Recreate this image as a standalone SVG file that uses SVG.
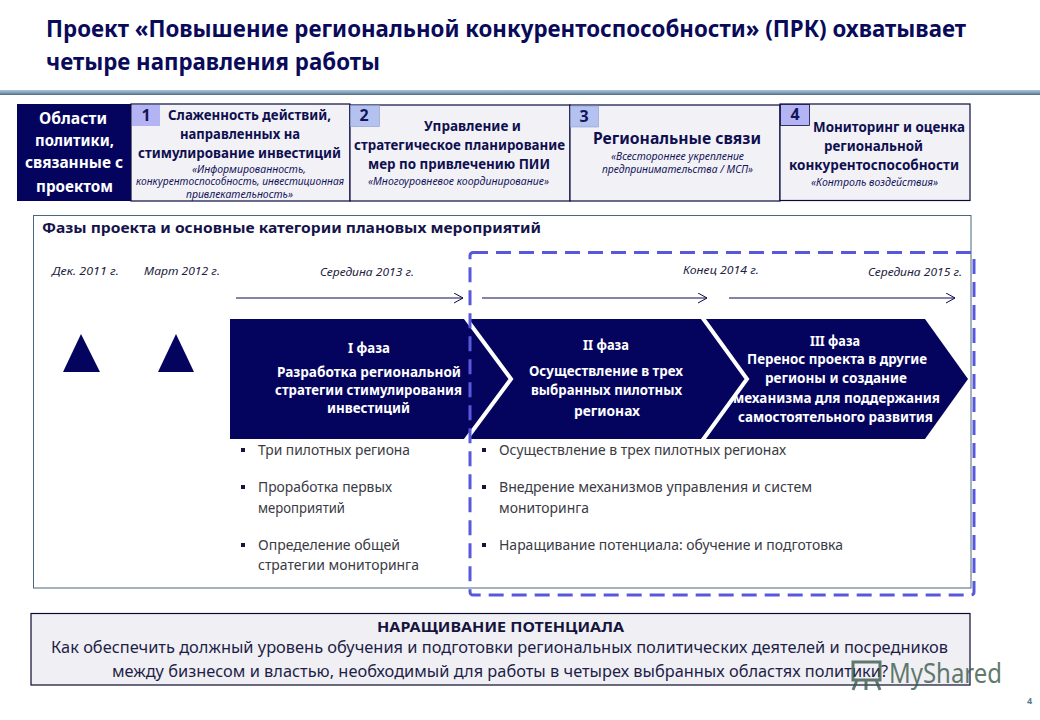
<svg xmlns="http://www.w3.org/2000/svg" width="1040" height="720" viewBox="0 0 1040 720">
<defs>
<linearGradient id="rule" x1="0" y1="0" x2="0" y2="1"><stop offset="0" stop-color="#a8c4d8"/><stop offset="0.55" stop-color="#7f9fb8"/><stop offset="1" stop-color="#4e6a80"/></linearGradient>
<marker id="open" markerWidth="12" markerHeight="12" refX="9" refY="5" orient="auto" markerUnits="userSpaceOnUse"><path d="M0 0 L9 5 L0 10" fill="none" stroke="#0a0a50" stroke-width="1"/></marker>
</defs>
<style>
text{font-family:"Noto Sans","DejaVu Sans",sans-serif}
.title{font-size:22.5px;font-weight:700;fill:#0a0a5a}
.h{font-size:13.5px;font-weight:700;fill:#0f0f50}
.h3{font-size:15.5px;font-weight:700;fill:#0f0f50}
.it{font-size:10px;font-style:italic;fill:#14145a}
.dark{font-size:15.5px;font-weight:700;fill:#fff}
.w{font-size:13.5px;font-weight:700;fill:#fff}
.date{font-size:10.5px;font-style:italic;fill:#222240}
.li{font-size:13.5px;fill:#3a3a44}
.num{font-size:16px;font-weight:700;fill:#14145a;text-anchor:middle}
.box{fill:#f2f2f6;stroke:#0a0a40;stroke-width:1.2}
.bul{fill:#14143c}
</style>
<rect width="1040" height="720" fill="#fff"/>
<g id="title">
<text class="title" x="46" y="37" textLength="920" lengthAdjust="spacingAndGlyphs">Проект «Повышение региональной конкурентоспособности» (ПРК) охватывает</text>
<text class="title" x="46" y="70" textLength="334" lengthAdjust="spacingAndGlyphs">четыре направления работы</text>
<rect x="0" y="90" width="1040" height="5" fill="url(#rule)"/>
</g>
<g id="policy-label">
<rect x="17" y="104" width="114" height="97" fill="#04045e"/>
<text class="dark" x="39" y="124" textLength="68" lengthAdjust="spacingAndGlyphs">Области</text>
<text class="dark" x="35" y="146" textLength="79" lengthAdjust="spacingAndGlyphs">политики,</text>
<text class="dark" x="25" y="168" textLength="98" lengthAdjust="spacingAndGlyphs">связанные с</text>
<text class="dark" x="36" y="192" textLength="77" lengthAdjust="spacingAndGlyphs">проектом</text>
</g>
<g id="area-1">
<rect class="box" x="131" y="104" width="219" height="97"/>
<rect x="132" y="105" width="28" height="21" fill="#b4b4f4"/>
<text class="num" x="146" y="121">1</text>
<text class="h" x="168" y="120" textLength="163" lengthAdjust="spacingAndGlyphs">Слаженность действий,</text>
<text class="h" x="180" y="139" textLength="120" lengthAdjust="spacingAndGlyphs">направленных на</text>
<text class="h" x="138" y="158" textLength="203" lengthAdjust="spacingAndGlyphs">стимулирование инвестиций</text>
<text class="it" x="192" y="173" textLength="114" lengthAdjust="spacingAndGlyphs">«Информированность,</text>
<text class="it" x="136" y="185" textLength="208" lengthAdjust="spacingAndGlyphs">конкурентоспособность, инвестиционная</text>
<text class="it" x="186" y="198" textLength="107" lengthAdjust="spacingAndGlyphs">привлекательность»</text>
</g>
<g id="area-2">
<rect class="box" x="350" y="105" width="220" height="96"/>
<rect x="350.500" y="105.500" width="29" height="21" fill="#b4c2f0" stroke="#8a9ad0" stroke-width="0.6"/>
<text class="num" x="364" y="121">2</text>
<text class="h" x="424" y="131" textLength="97" lengthAdjust="spacingAndGlyphs">Управление и</text>
<text class="h" x="354" y="150" textLength="211" lengthAdjust="spacingAndGlyphs">стратегическое планирование</text>
<text class="h" x="368" y="169" textLength="182" lengthAdjust="spacingAndGlyphs">мер по привлечению ПИИ</text>
<text class="it" x="368" y="185" textLength="181" lengthAdjust="spacingAndGlyphs">«Многоуровневое координирование»</text>
</g>
<g id="area-3">
<rect class="box" x="570" y="105" width="210" height="96"/>
<rect x="570.500" y="106" width="28" height="21" fill="#b4c2f0" stroke="#8a9ad0" stroke-width="0.6"/>
<text class="num" x="584" y="122">3</text>
<text class="h3" x="593" y="144" textLength="168" lengthAdjust="spacingAndGlyphs">Региональные связи</text>
<text class="it" x="611" y="160" textLength="133" lengthAdjust="spacingAndGlyphs">«Всестороннее укрепление</text>
<text class="it" x="602" y="173" textLength="151" lengthAdjust="spacingAndGlyphs">предпринимательства / МСП»</text>
</g>
<g id="area-4">
<rect class="box" x="780" y="104" width="190" height="96.500"/>
<rect x="780.500" y="104.500" width="29" height="21" fill="#b4b4f4" stroke="#0a0a40" stroke-width="0.8"/>
<text class="num" x="795" y="120">4</text>
<text class="h" x="813" y="132" textLength="152" lengthAdjust="spacingAndGlyphs">Мониторинг и оценка</text>
<text class="h" x="824" y="151" textLength="99" lengthAdjust="spacingAndGlyphs">региональной</text>
<text class="h" x="789" y="170" textLength="170" lengthAdjust="spacingAndGlyphs">конкурентоспособности</text>
<text class="it" x="811" y="186" textLength="127" lengthAdjust="spacingAndGlyphs">«Контроль воздействия»</text>
</g>
<g id="phases-frame">
<rect x="33.500" y="215.500" width="937.500" height="372.500" fill="#fff" stroke="#48687e" stroke-width="1"/>
<text x="42" y="233" font-size="15" font-weight="700" fill="#14144a" textLength="499" lengthAdjust="spacingAndGlyphs">Фазы проекта и основные категории плановых мероприятий</text>
</g>
<g id="dates">
<text class="date" x="52" y="275" textLength="67" lengthAdjust="spacingAndGlyphs">Дек. 2011 г.</text>
<text class="date" x="144" y="275" textLength="76" lengthAdjust="spacingAndGlyphs">Март 2012 г.</text>
<text class="date" x="320" y="276" textLength="94" lengthAdjust="spacingAndGlyphs">Середина 2013 г.</text>
<text class="date" x="683" y="274" textLength="76" lengthAdjust="spacingAndGlyphs">Конец 2014 г.</text>
<text class="date" x="868" y="276" textLength="94" lengthAdjust="spacingAndGlyphs">Середина 2015 г.</text>
</g>
<g id="milestones" fill="#04045e">
<path d="M63 372 L81 334 L100 372Z"/>
<path d="M158 372 L176 334 L194 372Z"/>
</g>
<g id="connectors" fill="none" stroke="#0a0a50" stroke-width="1">
<line x1="236" y1="298" x2="463" y2="298" marker-end="url(#open)"/>
<line x1="482" y1="298" x2="707" y2="298" marker-end="url(#open)"/>
<line x1="729" y1="298" x2="955" y2="298" marker-end="url(#open)"/>
</g>
<g id="phase-band">
<path d="M230 319 H925 L968 379 L925 439 H230Z" fill="#04045e"/>
</g>
<g id="phase-dividers" fill="none" stroke="#fff" stroke-width="4">
<path d="M465 317 L511 379 L465 441"/>
<path d="M702 317 L747 379 L702 441"/>
</g>
<g id="phase-1">
<text class="w" x="348" y="353" textLength="42" lengthAdjust="spacingAndGlyphs">I фаза</text>
<text class="w" x="277" y="377" textLength="184" lengthAdjust="spacingAndGlyphs">Разработка региональной</text>
<text class="w" x="275" y="395" textLength="187" lengthAdjust="spacingAndGlyphs">стратегии стимулирования</text>
<text class="w" x="327" y="413" textLength="83" lengthAdjust="spacingAndGlyphs">инвестиций</text>
</g>
<g id="phase-2">
<text class="w" x="583" y="350" textLength="46" lengthAdjust="spacingAndGlyphs">II фаза</text>
<text class="w" x="529" y="376" textLength="154" lengthAdjust="spacingAndGlyphs">Осуществление в трех</text>
<text class="w" x="531" y="395" textLength="151" lengthAdjust="spacingAndGlyphs">выбранных пилотных</text>
<text class="w" x="574" y="416" textLength="66" lengthAdjust="spacingAndGlyphs">регионах</text>
</g>
<g id="phase-3">
<text class="w" x="810" y="346" textLength="50" lengthAdjust="spacingAndGlyphs">III фаза</text>
<text class="w" x="747" y="364" textLength="180" lengthAdjust="spacingAndGlyphs">Перенос проекта в другие</text>
<text class="w" x="765" y="383" textLength="142" lengthAdjust="spacingAndGlyphs">регионы и создание</text>
<text class="w" x="733" y="403" textLength="207" lengthAdjust="spacingAndGlyphs">механизма для поддержания</text>
<text class="w" x="738" y="422" textLength="195" lengthAdjust="spacingAndGlyphs">самостоятельного развития</text>
</g>
<g id="list-left">
<rect class="bul" x="241" y="448" width="4" height="4"/>
<rect class="bul" x="241" y="485" width="4" height="4"/>
<rect class="bul" x="241" y="543" width="4" height="4"/>
<text class="li" x="258" y="455" textLength="152" lengthAdjust="spacingAndGlyphs">Три пилотных региона</text>
<text class="li" x="258" y="492" textLength="134" lengthAdjust="spacingAndGlyphs">Проработка первых</text>
<text class="li" x="258" y="513" textLength="87" lengthAdjust="spacingAndGlyphs">мероприятий</text>
<text class="li" x="258" y="550" textLength="142" lengthAdjust="spacingAndGlyphs">Определение общей</text>
<text class="li" x="258" y="570" textLength="161" lengthAdjust="spacingAndGlyphs">стратегии мониторинга</text>
</g>
<g id="list-right">
<rect class="bul" x="482" y="448" width="4" height="4"/>
<rect class="bul" x="482" y="485" width="4" height="4"/>
<rect class="bul" x="482" y="543" width="4" height="4"/>
<text class="li" x="499" y="455" textLength="287" lengthAdjust="spacingAndGlyphs">Осуществление в трех пилотных регионах</text>
<text class="li" x="499" y="492" textLength="313" lengthAdjust="spacingAndGlyphs">Внедрение механизмов управления и систем</text>
<text class="li" x="499" y="513" textLength="90" lengthAdjust="spacingAndGlyphs">мониторинга</text>
<text class="li" x="499" y="550" textLength="344" lengthAdjust="spacingAndGlyphs">Наращивание потенциала: обучение и подготовка</text>
</g>
<g id="phase-highlight">
<rect x="470" y="252.500" width="504" height="342.500" rx="3" fill="none" stroke="#5858dc" stroke-width="3" stroke-dasharray="15 8"/>
</g>
<g id="capacity">
<rect x="31" y="613.500" width="939" height="71.500" fill="#f0f0f4" stroke="#0a0a30" stroke-width="1.200"/>
<text x="377" y="632" font-size="15" font-weight="700" fill="#14143c" textLength="247" lengthAdjust="spacingAndGlyphs">НАРАЩИВАНИЕ ПОТЕНЦИАЛА</text>
<text x="51" y="653" font-size="15.500" fill="#1e1e48" textLength="897" lengthAdjust="spacingAndGlyphs">Как  обеспечить должный уровень обучения и подготовки региональных политических деятелей и посредников</text>
<text x="112" y="677" font-size="15.500" fill="#1e1e48" textLength="776" lengthAdjust="spacingAndGlyphs">между бизнесом и властью, необходимый для работы в четырех выбранных областях политики?</text>
</g>
<g id="watermark" opacity="0.8">
<path d="M853 662 H880 V680 H853Z M857 680 L853 690 M866 680 V690 M876 680 L880 690" fill="none" stroke="#3c5a4c" stroke-width="3"/>
<text x="889" y="683" font-size="28" fill="#3c5a4c" textLength="113" lengthAdjust="spacingAndGlyphs">MyShared</text>
</g>
<text id="page-number" x="1027" y="704" font-size="9" font-weight="700" fill="#5a7a90">4</text>
</svg>
